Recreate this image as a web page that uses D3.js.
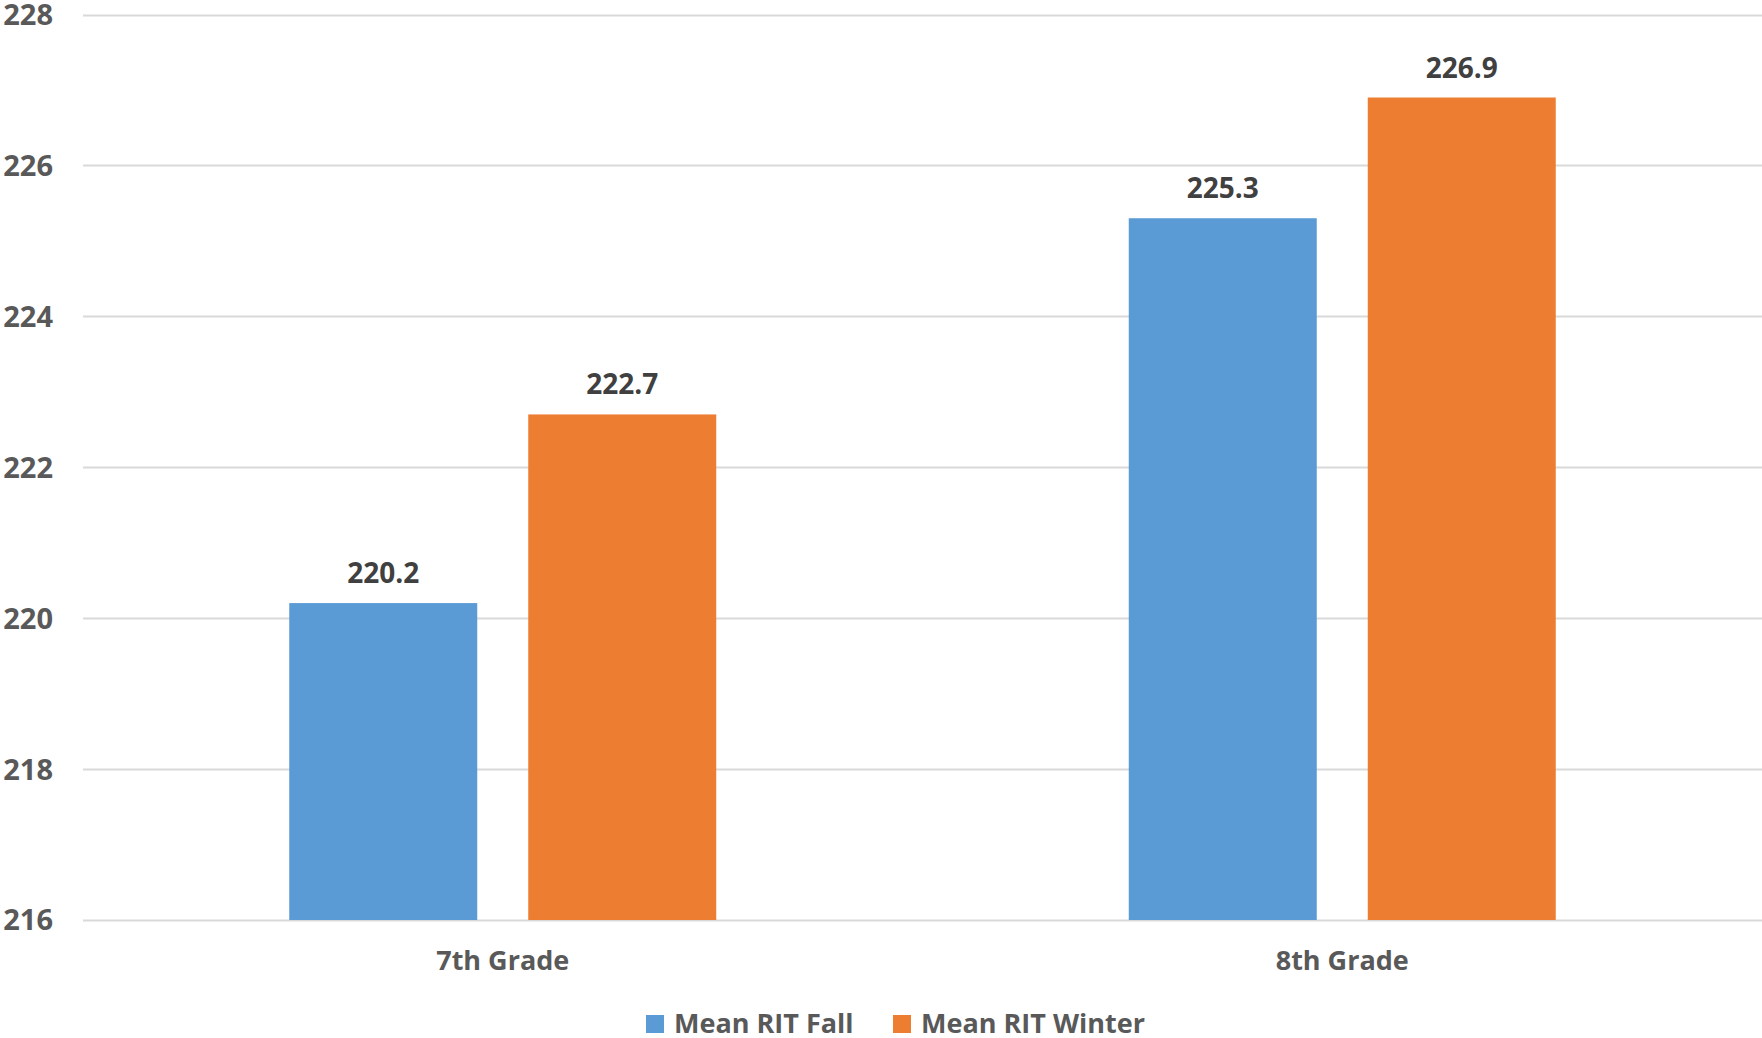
<!DOCTYPE html>
<html>
<head>
<meta charset="utf-8">
<script src="https://cdn.jsdelivr.net/npm/d3@7"></script>
<style>
  html, body { margin: 0; padding: 0; background: #fff; }
  svg { display: block; }
  text { font-family: "Open Sans", "Noto Sans", sans-serif; font-weight: bold; }
</style>
</head>
<body>
<svg id="chart" width="1762" height="1038"></svg>
<script>
const categories = ["7th Grade", "8th Grade"];
const seriesNames = ["Mean RIT Fall", "Mean RIT Winter"];
const fallValues = [220.2, 225.3];
const winterValues = [222.7, 226.9];
const yTicks = [216, 218, 220, 222, 224, 226, 228];
const colors = ["#5B9BD5", "#ED7D31"];

const seriesValues = [fallValues, winterValues];
const svg = d3.select("#chart");

const y = d3.scaleLinear().domain([216, 228]).range([920, 14.5]);
const x0 = d3.scaleBand().domain(categories).range([83, 1762]).padding(0);
const x1 = d3.scaleBand().domain(seriesNames).range([0, 427]).paddingInner(0.2134).paddingOuter(0);

// gridlines
svg.append("g").selectAll("line").data(yTicks).join("line")
  .attr("x1", 83).attr("x2", 1762)
  .attr("y1", d => Math.round(y(d)) + 0.5).attr("y2", d => Math.round(y(d)) + 0.5)
  .attr("stroke", "#D9D9D9").attr("stroke-width", 2);

// y axis labels
svg.append("g").selectAll("text").data(yTicks).join("text")
  .attr("x", 53).attr("y", d => y(d))
  .attr("dy", "0.36em")
  .attr("text-anchor", "end")
  .attr("font-size", 29)
  .attr("fill", "#595959")
  .text(d => d);

// bars
const groups = svg.append("g").selectAll("g").data(categories).join("g")
  .attr("transform", c => `translate(${x0(c) + x0.bandwidth() / 2 - 213.5},0)`);

groups.each(function(c, ci) {
  const g = d3.select(this);
  seriesNames.forEach((s, si) => {
    const v = seriesValues[si][ci];
    g.append("rect")
      .attr("x", x1(s)).attr("width", x1.bandwidth())
      .attr("y", y(v)).attr("height", y(216) - y(v))
      .attr("fill", colors[si]);
    g.append("text")
      .attr("x", x1(s) + x1.bandwidth() / 2)
      .attr("y", y(v) - 20)
      .attr("text-anchor", "middle")
      .attr("font-size", 28)
      .attr("fill", "#404040")
      .text(v.toFixed(1));
  });
});

// category labels
svg.append("g").selectAll("text").data(categories).join("text")
  .attr("x", c => x0(c) + x0.bandwidth() / 2)
  .attr("y", 970)
  .attr("text-anchor", "middle")
  .attr("font-size", 27)
  .attr("fill", "#595959")
  .text(c => c);

// legend
const legendItems = [
  { name: seriesNames[0], color: colors[0], x: 646 },
  { name: seriesNames[1], color: colors[1], x: 893 }
];
const lg = svg.append("g").selectAll("g").data(legendItems).join("g");
lg.append("rect")
  .attr("x", d => d.x).attr("y", 1015).attr("width", 18).attr("height", 18)
  .attr("fill", d => d.color);
lg.append("text")
  .attr("x", d => d.x + 28).attr("y", 1033)
  .attr("font-size", 27)
  .attr("fill", "#595959")
  .text(d => d.name);
</script>
</body>
</html>
